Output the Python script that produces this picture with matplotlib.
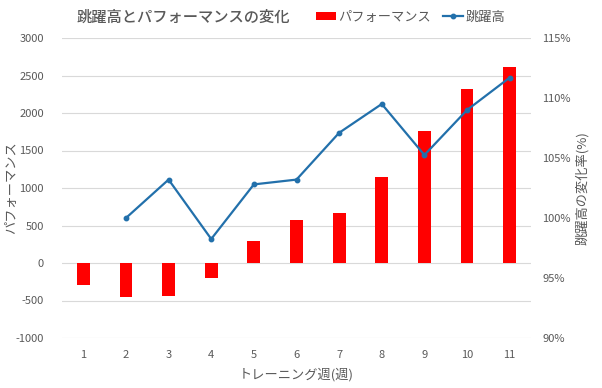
import matplotlib
matplotlib.use("Agg")
import matplotlib.pyplot as plt
from matplotlib.ticker import FuncFormatter

plt.rcParams["font.family"] = ["Noto Sans CJK JP", "DejaVu Sans"]
plt.rcParams["axes.unicode_minus"] = False

weeks = [1, 2, 3, 4, 5, 6, 7, 8, 9, 10, 11]
performance = [-290, -450, -440, -200, 300, 580, 670, 1150, 1760, 2320, 2610]
jump_weeks = [2, 3, 4, 5, 6, 7, 8, 9, 10, 11]
jump_change = [100.0, 103.2, 98.25, 102.8, 103.2, 107.1, 109.5, 105.25, 109.0, 111.7]

TEXT = "#595959"
GRID = "#D9D9D9"
RED = "#FF0000"
BLUE = "#2270AB"

fig = plt.figure(figsize=(6.02, 3.88), dpi=100)
ax = fig.add_axes([62 / 602, 1 - 338 / 388, 469 / 602, 300 / 388])
ax2 = ax.twinx()

bars = ax.bar(weeks, performance, width=0.3, color=RED, zorder=2, label="パフォーマンス")
line, = ax2.plot(jump_weeks, jump_change, color=BLUE, lw=1.6, marker="o", ms=3.2,
                 zorder=3, label="跳躍高")

ax.set_xlim(0.5, 11.5)
ax.set_ylim(-1000, 3000)
ax.set_yticks(range(-1000, 3001, 500))
ax2.set_ylim(90, 115)
ax2.set_yticks(range(90, 116, 5))
ax2.yaxis.set_major_formatter(FuncFormatter(lambda v, p: f"{v:.0f}%"))
ax.set_xticks(weeks)

ax.grid(axis="y", color=GRID, lw=0.8, zorder=0)
ax.set_axisbelow(True)
for a in (ax, ax2):
    for s in a.spines.values():
        s.set_visible(False)
    a.tick_params(length=0, colors=TEXT, labelsize=8)
ax.tick_params(axis="x", pad=9)
ax.tick_params(axis="y", pad=13)
ax2.tick_params(axis="y", pad=8)

ax.set_ylabel("パフォーマンス", color=TEXT, fontsize=9.5)
ax.yaxis.set_label_coords(-(62 - 12) / 469, 0.5)
ax.yaxis.label.set_va("center")
ax2.set_ylabel("跳躍高の変化率(%)", color=TEXT, fontsize=9.5, rotation=90)
ax2.yaxis.set_label_coords(1 + (582 - 531) / 469, 0.5)
ax2.yaxis.label.set_va("center")
ax.set_xlabel("トレーニング週(週)", color=TEXT, fontsize=9.5)
ax.xaxis.set_label_coords(0.5, -(375 - 338) / 300)
ax.xaxis.label.set_va("center")

fig.text(183 / 602, 1 - 17 / 388, "跳躍高とパフォーマンスの変化", color=TEXT,
         fontsize=11, fontweight="medium", ha="center", va="center")
fig.legend(handles=[bars, line], loc="center left", bbox_to_anchor=(304 / 602, 1 - 17 / 388),
           ncol=2, frameon=False, fontsize=9.5, labelcolor=TEXT, handlelength=1.5,
           handleheight=0.6, handletextpad=0.2, columnspacing=0.9)

fig.savefig("out.png", dpi=100)
